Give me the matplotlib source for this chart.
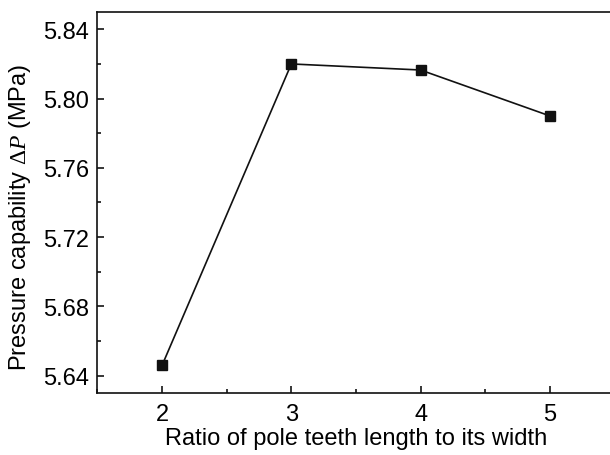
import matplotlib
matplotlib.use("Agg")
import matplotlib.pyplot as plt
from matplotlib.ticker import MultipleLocator

ratio = [2, 3, 4, 5]
pressure = [5.646, 5.820, 5.8165, 5.790]

plt.rcParams['font.family'] = ['Liberation Sans', 'DejaVu Sans']
plt.rcParams['mathtext.fontset'] = 'custom'
plt.rcParams['mathtext.it'] = 'Liberation Serif:italic'
plt.rcParams['mathtext.rm'] = 'Liberation Serif'

fig = plt.figure(figsize=(6.10, 4.56), dpi=100)
ax = fig.add_axes([0.1598, 0.136, 0.8475, 0.8355])

ax.plot(ratio, pressure, color='#111111', lw=1.2, marker='s', ms=6.5)

ax.set_xlim(1.5, 5.5)
ax.set_ylim(5.63, 5.85)
ax.xaxis.set_major_locator(MultipleLocator(1))
ax.xaxis.set_minor_locator(MultipleLocator(0.5))
ax.yaxis.set_major_locator(MultipleLocator(0.04))
ax.yaxis.set_minor_locator(MultipleLocator(0.02))
ax.yaxis.set_major_formatter(plt.FormatStrFormatter('%.2f'))
ax.tick_params(which='major', direction='in', length=5, width=1.1, labelsize=17)
ax.tick_params(axis='x', pad=7)
ax.tick_params(axis='y', pad=6)
ax.tick_params(which='minor', direction='in', length=3, width=1.1)
for s in ax.spines.values():
    s.set_linewidth(1.2)
    s.set_color('#111111')

ax.set_xlabel("Ratio of pole teeth length to its width", fontsize=17, labelpad=1.5)
ax.set_ylabel(r"Pressure capability $\mathit{\Delta P}$ (MPa)", fontsize=17)
ax.yaxis.set_label_coords(-0.124, 0.463)

fig.savefig("out.png", dpi=100)
